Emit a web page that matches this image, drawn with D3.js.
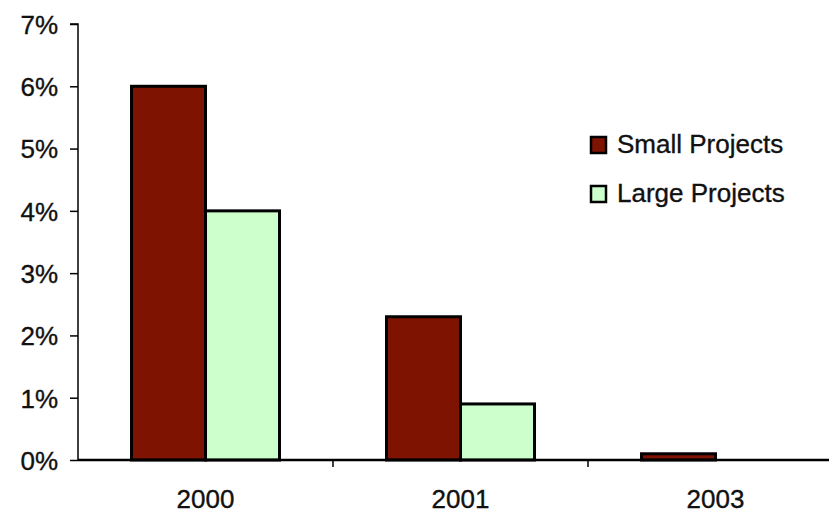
<!DOCTYPE html>
<html><head><meta charset="utf-8">
<script src="https://cdn.jsdelivr.net/npm/d3@7"></script>
<style>body{margin:0;background:#fff}svg{display:block}text{font-family:Arial,"Liberation Sans",sans-serif;fill:#111;stroke:#111;stroke-width:0.35px}</style>
</head><body><svg id="c" width="829" height="514"></svg>
<script>
const categories = ["2000", "2001", "2003"];
const seriesNames = ["Small Projects", "Large Projects"];
const smallProjects = [0.060, 0.023, 0.001];
const largeProjects = [0.040, 0.009, 0.000];
const yTicks = [0, 0.01, 0.02, 0.03, 0.04, 0.05, 0.06, 0.07];
const colors = ["#7d1300", "#ccffcc"];

const svg = d3.select("#c");
const plotLeft = 78, plotBase = 460, plotTop = 24;
const x0 = d3.scaleBand().domain(categories).range([plotLeft, plotLeft + 255 * 3]).paddingInner(0).paddingOuter(0);
const x1 = d3.scaleBand().domain(seriesNames).range([0, x0.bandwidth()]).paddingInner(0).paddingOuter(0.723);
const y = d3.scaleLinear().domain([0, 0.07]).range([plotBase, plotTop]);
const color = d3.scaleOrdinal().domain(seriesNames).range(colors);
const data = categories.map((c, i) => ({cat: c, vals: [
  {s: seriesNames[0], v: smallProjects[i]}, {s: seriesNames[1], v: largeProjects[i]}]}));

// bars
const g = svg.append("g");
data.forEach(d => {
  d.vals.forEach(b => {
    if (b.v <= 0) return;
    g.append("rect")
      .attr("x", x0(d.cat) + x1(b.s))
      .attr("y", y(b.v))
      .attr("width", x1.bandwidth())
      .attr("height", plotBase - y(b.v))
      .attr("fill", color(b.s))
      .attr("stroke", "#000").attr("stroke-width", 3);
  });
});

// y axis
const yAxis = d3.axisLeft(y).tickValues(yTicks).tickFormat(d3.format(".0%")).tickSize(8).tickPadding(12);
const ya = svg.append("g").attr("transform", `translate(${plotLeft},0)`).call(yAxis);
ya.select(".domain").attr("stroke", "#000").attr("stroke-width", 1.5).attr("d", `M-8,${plotTop}H0V${plotBase}`);
ya.selectAll(".tick line").attr("stroke", "#000").attr("stroke-width", 1.5);
ya.selectAll(".tick text").style("font-size", "26px").attr("fill", "#111").attr("dy", "0.36em");

// x axis
const xAxis = d3.axisBottom(x0).tickSize(0).tickPadding(0);
const xa = svg.append("g").attr("transform", `translate(0,${plotBase})`).call(xAxis);
xa.select(".domain").attr("stroke", "#000").attr("stroke-width", 2.5).attr("d", `M${plotLeft},0H${plotLeft + 255 * 3}`);
xa.selectAll(".tick text").style("font-size", "26px").attr("fill", "#111").attr("y", 48).attr("dy", 0);
// category boundary ticks
xa.selectAll(".bnd").data(categories.slice(1)).enter().append("line")
  .attr("x1", d => x0(d)).attr("x2", d => x0(d)).attr("y1", 0).attr("y2", 7)
  .attr("stroke", "#000").attr("stroke-width", 1.5);

// legend
const lg = svg.append("g");
seriesNames.forEach((s, i) => {
  const yy = 137 + i * 49;
  lg.append("rect").attr("x", 591).attr("y", yy).attr("width", 15).attr("height", 16)
    .attr("fill", color(s)).attr("stroke", "#000").attr("stroke-width", 2.5);
  lg.append("text").attr("x", 617).attr("y", yy + 16).style("font-size", "26px").text(s);
});
</script></body></html>
